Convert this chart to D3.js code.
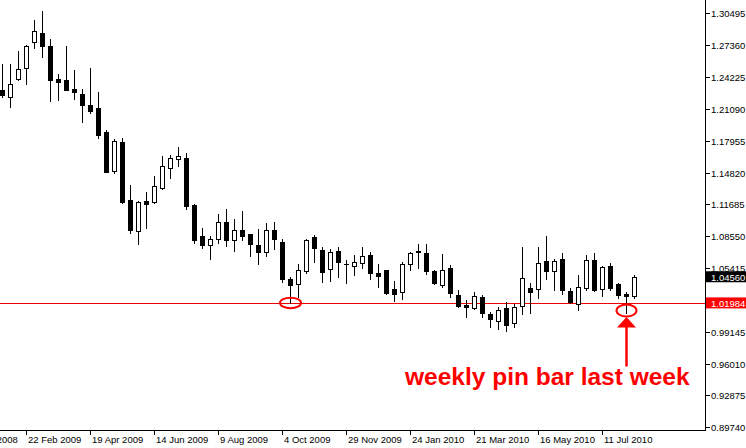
<!DOCTYPE html>
<html><head><meta charset="utf-8">
<script src="https://cdn.jsdelivr.net/npm/d3@7"></script>
<style>html,body{margin:0;padding:0;background:#fff;}svg{display:block;}</style>
</head><body>
<svg id="chart" width="746" height="448"></svg>
<script>
// Weekly candles, first week index 0 = 1 Feb 2009
const open = [1.2294,1.2222,1.2405,1.2508,1.2770,1.2855,1.2727,1.2402,1.2393,1.2304,
1.2255,1.2147,1.2117,1.1881,1.1500,1.1782,1.1211,1.0903,1.1202,1.1189,
1.1333,1.1523,1.1612,1.1625,1.1162,1.0857,1.0766,1.0825,1.0992,1.0815,
1.0913,1.0872,1.0769,1.0695,1.0916,1.0795,1.0431,1.0382,1.0516,1.0850,
1.0719,1.0537,1.0709,1.0580,1.0557,1.0594,1.0670,1.0493,1.0522,1.0332,
1.0301,1.0579,1.0709,1.0690,1.0508,1.0378,1.0539,1.0276,1.0178,1.0153,
1.0260,1.0089,1.0017,1.0145,0.9998,1.0171,1.0342,1.0332,1.0611,1.0516,
1.0631,1.0318,1.0185,1.0342,1.0621,1.0338,1.0562,1.0385,1.0283,1.0271];
const high = [1.2550,1.2550,1.2678,1.2737,1.2983,1.3072,1.2796,1.2452,1.2727,1.2491,
1.2304,1.2511,1.2274,1.1898,1.1812,1.1819,1.1359,1.1205,1.1290,1.1448,
1.1645,1.1654,1.1733,1.1674,1.1169,1.0936,1.0860,1.1074,1.1123,1.1024,
1.1103,1.0874,1.0926,1.0982,1.0992,1.0828,1.0451,1.0581,1.0828,1.0867,
1.0752,1.0734,1.0749,1.0621,1.0670,1.0749,1.0697,1.0580,1.0527,1.0414,
1.0601,1.0703,1.0781,1.0781,1.0527,1.0683,1.0572,1.0326,1.0227,1.0309,
1.0276,1.0106,1.0155,1.0210,1.0191,1.0749,1.0394,1.0749,1.0860,1.0634,
1.0687,1.0342,1.0473,1.0670,1.0687,1.0559,1.0588,1.0391,1.0306,1.0473];
const low = [1.2228,1.2130,1.2393,1.2353,1.2711,1.2622,1.2189,1.2196,1.2291,1.2206,
1.1982,1.2071,1.1825,1.1487,1.1474,1.1185,1.0890,1.0781,1.0939,1.1182,
1.1323,1.1431,1.1543,1.1120,1.0791,1.0742,1.0628,1.0791,1.0762,1.0712,
1.0818,1.0663,1.0581,1.0660,1.0729,1.0407,1.0198,1.0260,1.0496,1.0598,
1.0407,1.0419,1.0449,1.0397,1.0473,1.0545,1.0434,1.0358,1.0286,1.0220,
1.0237,1.0525,1.0547,1.0488,1.0380,1.0358,1.0254,1.0156,1.0055,1.0134,
1.0063,0.9964,0.9945,0.9925,0.9964,1.0087,1.0102,1.0242,1.0434,1.0329,
1.0284,1.0198,1.0132,1.0326,1.0316,1.0271,1.0326,1.0250,1.0104,1.0250];
const close = [1.2248,1.2350,1.2501,1.2727,1.2875,1.2730,1.2396,1.2376,1.2297,1.2277,
1.2149,1.2090,1.1854,1.1490,1.1789,1.1195,1.0919,1.1189,1.1175,1.1346,
1.1543,1.1622,1.1642,1.1155,1.0821,1.0771,1.0825,1.0992,1.0813,1.0913,
1.0862,1.0781,1.0695,1.0916,1.0823,1.0437,1.0375,1.0522,1.0818,1.0742,
1.0498,1.0695,1.0604,1.0580,1.0599,1.0658,1.0496,1.0466,1.0299,1.0289,
1.0581,1.0690,1.0695,1.0508,1.0399,1.0519,1.0299,1.0170,1.0155,1.0264,
1.0102,1.0037,1.0126,0.9984,1.0158,1.0441,1.0309,1.0588,1.0516,1.0611,
1.0329,1.0203,1.0352,1.0621,1.0329,1.0552,1.0350,1.0273,1.0271,1.0456];

const priceTicks = [1.30495,1.27360,1.24225,1.21090,1.17955,1.14820,1.11685,1.08550,1.05415,1.02280,0.99145,0.96010,0.92875,0.89740];
const dateTickLabels = ["28 Dec 2008","22 Feb 2009","19 Apr 2009","14 Jun 2009","9 Aug 2009","4 Oct 2009","29 Nov 2009","24 Jan 2010","21 Mar 2010","16 May 2010","11 Jul 2010"];
const dateTickIndex = [-5,3,11,19,27,35,43,51,59,67,75];
const supportLevel = 1.01984;
const bidPrice = 1.04560;
const annotation = "weekly pin bar last week";
const touchIndex = 36, pinIndex = 78;

const svg = d3.select("#chart");
const plotRight = 705, plotBottom = 430;
const x = d3.scaleLinear().domain([0, 79]).range([2, 634]);
const y = d3.scaleLinear().domain([0.89740, 1.30495]).range([427.3, 13.3]);
const fmt = d3.format(".5f");
const FONT = "'Liberation Sans', Arial, sans-serif";

// support line (behind candles)
svg.append("line").attr("x1",0).attr("x2",plotRight).attr("y1",Math.round(y(supportLevel))+0.5).attr("y2",Math.round(y(supportLevel))+0.5)
  .attr("stroke","#ee0000").attr("stroke-width",1);

// candles
const g = svg.append("g");
d3.range(open.length).forEach(i => {
  const c = Math.round(x(i));
  const o = open[i], cl = close[i];
  g.append("line").attr("x1",c+0.5).attr("x2",c+0.5)
    .attr("y1",Math.round(y(high[i]))).attr("y2",Math.round(y(low[i]))+1)
    .attr("stroke","#000").attr("stroke-width",1);
  const top = Math.round(y(Math.max(o,cl))), bot = Math.round(y(Math.min(o,cl)));
  if (cl > o) {
    g.append("rect").attr("x",c-1.5).attr("y",top+0.5).attr("width",4).attr("height",Math.max(bot-top,1))
      .attr("fill","#fff").attr("stroke","#000").attr("stroke-width",1);
  } else {
    g.append("rect").attr("x",c-2).attr("y",top).attr("width",5).attr("height",Math.max(bot-top+1,1))
      .attr("fill","#000");
  }
});

// frame
svg.append("line").attr("x1",plotRight+0.5).attr("x2",plotRight+0.5).attr("y1",0).attr("y2",plotBottom+1).attr("stroke","#000");
svg.append("line").attr("x1",0).attr("x2",plotRight+1).attr("y1",plotBottom+0.5).attr("y2",plotBottom+0.5).attr("stroke","#000");

// price axis
const py = svg.append("g");
priceTicks.forEach(p => {
  const yy = Math.round(y(p));
  py.append("line").attr("x1",plotRight+1).attr("x2",plotRight+5).attr("y1",yy+0.5).attr("y2",yy+0.5).attr("stroke","#000");
  py.append("text").attr("x",711).attr("y",yy+4).attr("font-family",FONT).attr("font-size",9.5).attr("fill","#000").text(fmt(p));
});

// date axis
dateTickIndex.forEach((k, j) => {
  const xx = Math.round(x(k));
  svg.append("line").attr("x1",xx+0.5).attr("x2",xx+0.5).attr("y1",plotBottom).attr("y2",plotBottom+5).attr("stroke","#000");
  svg.append("text").attr("x",xx+2).attr("y",442.5).attr("font-family",FONT).attr("font-size",9.5).attr("fill","#000").text(dateTickLabels[j]);
});

// price tags
function tag(val, bg) {
  const yy = y(val);
  svg.append("rect").attr("x",706).attr("y",yy-5.5).attr("width",40).attr("height",11).attr("fill",bg);
  svg.append("text").attr("x",711).attr("y",yy+3.8).attr("font-family",FONT).attr("font-size",9.5).attr("fill","#fff").text(fmt(val));
}
tag(bidPrice, "#000");
tag(supportLevel, "#ff0000");

// annotations
const red = "#ff0000";
svg.append("ellipse").attr("cx",x(touchIndex)+0.5).attr("cy",y(low[touchIndex])).attr("rx",10.5).attr("ry",5.3)
  .attr("fill","none").attr("stroke",red).attr("stroke-width",2);
const px = Math.round(x(pinIndex))+0.5;
const pinY = y(low[pinIndex]);
svg.append("ellipse").attr("cx",px).attr("cy",pinY-2).attr("rx",10).attr("ry",6)
  .attr("fill","none").attr("stroke",red).attr("stroke-width",2);
svg.append("path").attr("d",`M${px},${pinY+4.5} L${px-9.5},${pinY+15} L${px+9.5},${pinY+15} Z`).attr("fill",red);
svg.append("line").attr("x1",px).attr("x2",px).attr("y1",pinY+14).attr("y2",pinY+54).attr("stroke",red).attr("stroke-width",2.5);
svg.append("text").attr("x",405).attr("y",385).attr("font-family",FONT).attr("font-weight","bold").attr("font-size",24.5)
  .attr("fill",red).text(annotation);
</script>
</body></html>
